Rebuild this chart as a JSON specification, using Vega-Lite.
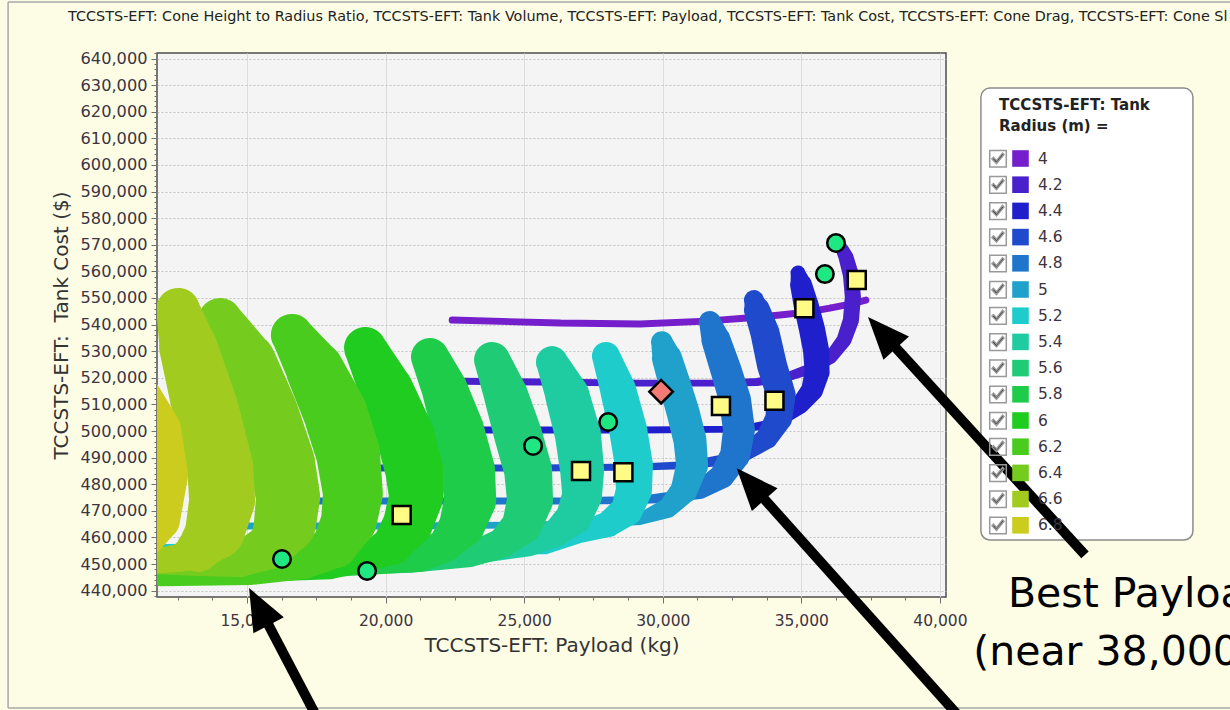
{
  "$schema": "https://vega.github.io/schema/vega-lite/v6.json",
  "width": 789,
  "height": 544,
  "autosize": {"type": "none"},
  "padding": {"left": 157, "top": 53, "right": 284, "bottom": 113},
  "background": "#fdfde6",
  "config": {
    "font": "DejaVu Sans",
    "view": {"fill": "#f4f4f4", "stroke": "#4d4d4d", "strokeWidth": 1.5}
  },
  "datasets": {
    "series": [
      {"r": 4, "payload": 22400, "cost": 541700, "spread": 250},
      {"r": 4, "payload": 26290, "cost": 540600, "spread": 250},
      {"r": 4, "payload": 29180, "cost": 540200, "spread": 250},
      {"r": 4, "payload": 31560, "cost": 541300, "spread": 250},
      {"r": 4, "payload": 33040, "cost": 542500, "spread": 250},
      {"r": 4, "payload": 34230, "cost": 543600, "spread": 250},
      {"r": 4, "payload": 35200, "cost": 544700, "spread": 250},
      {"r": 4, "payload": 36030, "cost": 546200, "spread": 250},
      {"r": 4, "payload": 36760, "cost": 547700, "spread": 250},
      {"r": 4, "payload": 37330, "cost": 549200, "spread": 250},

      {"r": 4.2, "payload": 21960, "cost": 518800, "spread": 250},
      {"r": 4.2, "payload": 25570, "cost": 518400, "spread": 250},
      {"r": 4.2, "payload": 29180, "cost": 518000, "spread": 250},
      {"r": 4.2, "payload": 32070, "cost": 518000, "spread": 250},
      {"r": 4.2, "payload": 33400, "cost": 518400, "spread": 290},
      {"r": 4.2, "payload": 34480, "cost": 520300, "spread": 320},
      {"r": 4.2, "payload": 35420, "cost": 523700, "spread": 400},
      {"r": 4.2, "payload": 36070, "cost": 527800, "spread": 470},
      {"r": 4.2, "payload": 36540, "cost": 534200, "spread": 540},
      {"r": 4.2, "payload": 36790, "cost": 541700, "spread": 580},
      {"r": 4.2, "payload": 36860, "cost": 550400, "spread": 580},
      {"r": 4.2, "payload": 36790, "cost": 558600, "spread": 580},
      {"r": 4.2, "payload": 36610, "cost": 565400, "spread": 540},
      {"r": 4.2, "payload": 36470, "cost": 568400, "spread": 470},

      {"r": 4.4, "payload": 20520, "cost": 500400, "spread": 250},
      {"r": 4.4, "payload": 25570, "cost": 500400, "spread": 250},
      {"r": 4.4, "payload": 29180, "cost": 500400, "spread": 250},
      {"r": 4.4, "payload": 32790, "cost": 500700, "spread": 250},
      {"r": 4.4, "payload": 33690, "cost": 502200, "spread": 320},
      {"r": 4.4, "payload": 34410, "cost": 505300, "spread": 470},
      {"r": 4.4, "payload": 34950, "cost": 509800, "spread": 650},
      {"r": 4.4, "payload": 35390, "cost": 515400, "spread": 790},
      {"r": 4.4, "payload": 35570, "cost": 522200, "spread": 900},
      {"r": 4.4, "payload": 35530, "cost": 530400, "spread": 940},
      {"r": 4.4, "payload": 35390, "cost": 538000, "spread": 940},
      {"r": 4.4, "payload": 35170, "cost": 547400, "spread": 900},
      {"r": 4.4, "payload": 34990, "cost": 554900, "spread": 790},
      {"r": 4.4, "payload": 34880, "cost": 559400, "spread": 540},

      {"r": 4.6, "payload": 19800, "cost": 486100, "spread": 250},
      {"r": 4.6, "payload": 25570, "cost": 486100, "spread": 250},
      {"r": 4.6, "payload": 29180, "cost": 486500, "spread": 250},
      {"r": 4.6, "payload": 30980, "cost": 487200, "spread": 290},
      {"r": 4.6, "payload": 32170, "cost": 489100, "spread": 400},
      {"r": 4.6, "payload": 33040, "cost": 492100, "spread": 580},
      {"r": 4.6, "payload": 33760, "cost": 497400, "spread": 790},
      {"r": 4.6, "payload": 34190, "cost": 504900, "spread": 970},
      {"r": 4.6, "payload": 34270, "cost": 513500, "spread": 1050},
      {"r": 4.6, "payload": 33940, "cost": 524800, "spread": 1080},
      {"r": 4.6, "payload": 33690, "cost": 536800, "spread": 1050},
      {"r": 4.6, "payload": 33400, "cost": 545500, "spread": 940},
      {"r": 4.6, "payload": 33290, "cost": 549200, "spread": 720},

      {"r": 4.8, "payload": 16910, "cost": 473700, "spread": 250},
      {"r": 4.8, "payload": 22320, "cost": 473700, "spread": 250},
      {"r": 4.8, "payload": 26290, "cost": 473700, "spread": 250},
      {"r": 4.8, "payload": 29180, "cost": 474100, "spread": 290},
      {"r": 4.8, "payload": 30330, "cost": 475200, "spread": 400},
      {"r": 4.8, "payload": 31340, "cost": 477800, "spread": 650},
      {"r": 4.8, "payload": 32140, "cost": 483100, "spread": 900},
      {"r": 4.8, "payload": 32610, "cost": 491000, "spread": 1080},
      {"r": 4.8, "payload": 32750, "cost": 500400, "spread": 1150},
      {"r": 4.8, "payload": 32610, "cost": 511600, "spread": 1150},
      {"r": 4.8, "payload": 32280, "cost": 522900, "spread": 1120},
      {"r": 4.8, "payload": 31920, "cost": 534200, "spread": 1050},
      {"r": 4.8, "payload": 31700, "cost": 541000, "spread": 790},

      {"r": 5, "payload": 14390, "cost": 464300, "spread": 250},
      {"r": 5, "payload": 20520, "cost": 464300, "spread": 250},
      {"r": 5, "payload": 25570, "cost": 464700, "spread": 250},
      {"r": 5, "payload": 27740, "cost": 465400, "spread": 290},
      {"r": 5, "payload": 29180, "cost": 466900, "spread": 430},
      {"r": 5, "payload": 30190, "cost": 471100, "spread": 720},
      {"r": 5, "payload": 30770, "cost": 477800, "spread": 970},
      {"r": 5, "payload": 31060, "cost": 487200, "spread": 1150},
      {"r": 5, "payload": 30980, "cost": 496600, "spread": 1190},
      {"r": 5, "payload": 30730, "cost": 507100, "spread": 1190},
      {"r": 5, "payload": 30440, "cost": 517300, "spread": 1150},
      {"r": 5, "payload": 30150, "cost": 527400, "spread": 1080},
      {"r": 5, "payload": 29970, "cost": 533400, "spread": 790},

      {"r": 5.2, "payload": 11860, "cost": 455300, "spread": 430},
      {"r": 5.2, "payload": 16910, "cost": 455600, "spread": 430},
      {"r": 5.2, "payload": 22320, "cost": 456000, "spread": 510},
      {"r": 5.2, "payload": 25750, "cost": 457100, "spread": 650},
      {"r": 5.2, "payload": 27010, "cost": 461700, "spread": 720},
      {"r": 5.2, "payload": 28030, "cost": 465000, "spread": 940},
      {"r": 5.2, "payload": 28710, "cost": 470300, "spread": 1150},
      {"r": 5.2, "payload": 28960, "cost": 477800, "spread": 1300},
      {"r": 5.2, "payload": 28960, "cost": 487200, "spread": 1370},
      {"r": 5.2, "payload": 28750, "cost": 500400, "spread": 1370},
      {"r": 5.2, "payload": 28390, "cost": 515400, "spread": 1300},
      {"r": 5.2, "payload": 27950, "cost": 528200, "spread": 1010},

      {"r": 5.4, "payload": 11860, "cost": 452300, "spread": 650},
      {"r": 5.4, "payload": 18720, "cost": 453000, "spread": 650},
      {"r": 5.4, "payload": 23410, "cost": 454100, "spread": 720},
      {"r": 5.4, "payload": 25210, "cost": 457100, "spread": 790},
      {"r": 5.4, "payload": 26150, "cost": 461700, "spread": 1010},
      {"r": 5.4, "payload": 26800, "cost": 467700, "spread": 1300},
      {"r": 5.4, "payload": 27090, "cost": 475900, "spread": 1440},
      {"r": 5.4, "payload": 27090, "cost": 485300, "spread": 1590},
      {"r": 5.4, "payload": 26940, "cost": 498500, "spread": 1660},
      {"r": 5.4, "payload": 26550, "cost": 513500, "spread": 1590},
      {"r": 5.4, "payload": 26000, "cost": 525900, "spread": 1150},

      {"r": 5.6, "payload": 11860, "cost": 448900, "spread": 790},
      {"r": 5.6, "payload": 16910, "cost": 449600, "spread": 790},
      {"r": 5.6, "payload": 20880, "cost": 450800, "spread": 790},
      {"r": 5.6, "payload": 23050, "cost": 453400, "spread": 870},
      {"r": 5.6, "payload": 24200, "cost": 457900, "spread": 1080},
      {"r": 5.6, "payload": 24920, "cost": 464700, "spread": 1440},
      {"r": 5.6, "payload": 25210, "cost": 474100, "spread": 1660},
      {"r": 5.6, "payload": 25140, "cost": 485300, "spread": 1730},
      {"r": 5.6, "payload": 24780, "cost": 498500, "spread": 1730},
      {"r": 5.6, "payload": 24340, "cost": 513500, "spread": 1590},
      {"r": 5.6, "payload": 23840, "cost": 526700, "spread": 1300},

      {"r": 5.8, "payload": 11860, "cost": 448500, "spread": 870},
      {"r": 5.8, "payload": 17990, "cost": 449600, "spread": 870},
      {"r": 5.8, "payload": 21240, "cost": 452300, "spread": 1010},
      {"r": 5.8, "payload": 22140, "cost": 457100, "spread": 1230},
      {"r": 5.8, "payload": 22760, "cost": 464700, "spread": 1660},
      {"r": 5.8, "payload": 23050, "cost": 474100, "spread": 1880},
      {"r": 5.8, "payload": 22970, "cost": 485300, "spread": 1950},
      {"r": 5.8, "payload": 22610, "cost": 500400, "spread": 1880},
      {"r": 5.8, "payload": 22140, "cost": 515400, "spread": 1660},
      {"r": 5.8, "payload": 21600, "cost": 527800, "spread": 1370},

      {"r": 6, "payload": 11860, "cost": 447000, "spread": 870},
      {"r": 6, "payload": 15110, "cost": 447700, "spread": 870},
      {"r": 6, "payload": 17990, "cost": 449200, "spread": 940},
      {"r": 6, "payload": 19370, "cost": 452600, "spread": 1010},
      {"r": 6, "payload": 20230, "cost": 457100, "spread": 1440},
      {"r": 6, "payload": 20810, "cost": 465400, "spread": 1800},
      {"r": 6, "payload": 21100, "cost": 475200, "spread": 1950},
      {"r": 6, "payload": 21030, "cost": 485300, "spread": 2090},
      {"r": 6, "payload": 20700, "cost": 498500, "spread": 2090},
      {"r": 6, "payload": 20020, "cost": 515400, "spread": 1950},
      {"r": 6, "payload": 19260, "cost": 531200, "spread": 1520},

      {"r": 6.2, "payload": 11860, "cost": 446200, "spread": 870},
      {"r": 6.2, "payload": 15110, "cost": 447000, "spread": 940},
      {"r": 6.2, "payload": 17090, "cost": 450400, "spread": 1150},
      {"r": 6.2, "payload": 18180, "cost": 457100, "spread": 1660},
      {"r": 6.2, "payload": 18680, "cost": 466500, "spread": 2020},
      {"r": 6.2, "payload": 18820, "cost": 476700, "spread": 2160},
      {"r": 6.2, "payload": 18640, "cost": 491700, "spread": 2310},
      {"r": 6.2, "payload": 18180, "cost": 506800, "spread": 2310},
      {"r": 6.2, "payload": 17450, "cost": 522900, "spread": 2090},
      {"r": 6.2, "payload": 16620, "cost": 536100, "spread": 1520},

      {"r": 6.4, "payload": 11500, "cost": 450800, "spread": 870},
      {"r": 6.4, "payload": 13300, "cost": 450400, "spread": 940},
      {"r": 6.4, "payload": 14750, "cost": 451500, "spread": 1230},
      {"r": 6.4, "payload": 15900, "cost": 457100, "spread": 1730},
      {"r": 6.4, "payload": 16370, "cost": 465400, "spread": 2240},
      {"r": 6.4, "payload": 16480, "cost": 475200, "spread": 2310},
      {"r": 6.4, "payload": 16260, "cost": 488000, "spread": 2380},
      {"r": 6.4, "payload": 15690, "cost": 506800, "spread": 2310},
      {"r": 6.4, "payload": 14930, "cost": 525600, "spread": 2240},
      {"r": 6.4, "payload": 14030, "cost": 541700, "spread": 1590},

      {"r": 6.6, "payload": 11500, "cost": 450800, "spread": 870},
      {"r": 6.6, "payload": 12580, "cost": 452300, "spread": 1010},
      {"r": 6.6, "payload": 13230, "cost": 455300, "spread": 1590},
      {"r": 6.6, "payload": 13850, "cost": 462800, "spread": 2160},
      {"r": 6.6, "payload": 14100, "cost": 474100, "spread": 2380},
      {"r": 6.6, "payload": 14030, "cost": 486500, "spread": 2380},
      {"r": 6.6, "payload": 13480, "cost": 509000, "spread": 2380},
      {"r": 6.6, "payload": 12870, "cost": 531600, "spread": 2090},
      {"r": 6.6, "payload": 12510, "cost": 545500, "spread": 1590},

      {"r": 6.8, "payload": 11140, "cost": 455300, "spread": 1080},
      {"r": 6.8, "payload": 11860, "cost": 466500, "spread": 1440},
      {"r": 6.8, "payload": 12040, "cost": 483500, "spread": 1660},
      {"r": 6.8, "payload": 11790, "cost": 500400, "spread": 1660},
      {"r": 6.8, "payload": 10960, "cost": 515400, "spread": 1590}
    ],
    "picks": [
      {"kind": "circle", "payload": 16260, "cost": 451900},
      {"kind": "circle", "payload": 19330, "cost": 447400},
      {"kind": "circle", "payload": 25320, "cost": 494400},
      {"kind": "circle", "payload": 28030, "cost": 503400},
      {"kind": "circle", "payload": 35850, "cost": 559000},
      {"kind": "circle", "payload": 36250, "cost": 570700},
      {"kind": "square", "payload": 20580, "cost": 468400},
      {"kind": "square", "payload": 27050, "cost": 485000},
      {"kind": "square", "payload": 28580, "cost": 484500},
      {"kind": "square", "payload": 32100, "cost": 509400},
      {"kind": "square", "payload": 34030, "cost": 511400},
      {"kind": "square", "payload": 35110, "cost": 546100},
      {"kind": "square", "payload": 37000, "cost": 556800},
      {"kind": "diamond", "payload": 29940, "cost": 514800}
    ],
    "frame": [
      {"payload": 6377, "cost": 661255, "payload2": 6377, "cost2": 395870},
      {"payload": 6377, "cost": 661255, "payload2": 50650, "cost2": 661255},
      {"payload": 6377, "cost": 395870, "payload2": 50650, "cost2": 395870}
    ],
    "legendbox": [
      {"payload": 41480, "cost": 628930, "payload2": 49130, "cost2": 459020}
    ],
    "arrows": [
      {"id": 1, "payload": 38010, "cost": 535900, "payload2": 45235, "cost2": 453400},
      {"id": 2, "payload": 33270, "cost": 479000, "payload2": 40800, "cost2": 391400},
      {"id": 3, "payload": 15490, "cost": 432700, "payload2": 17570, "cost2": 391400}
    ],
    "heads": [
      {"id": 1, "payload": 37405, "cost": 542850},
      {"id": 2, "payload": 32668, "cost": 485970},
      {"id": 3, "payload": 15072, "cost": 440980}
    ],
    "notes": [
      {"payload": 42457, "cost": 433950, "text": "Best Payload"},
      {"payload": 41204, "cost": 412030, "text": "(near 38,000 kg)"}
    ],
    "heading": [
      {"payload": 8541, "cost": 654110, "text": "TCCSTS-EFT: Cone Height to Radius Ratio, TCCSTS-EFT: Tank Volume, TCCSTS-EFT: Payload, TCCSTS-EFT: Tank Cost, TCCSTS-EFT: Cone Drag, TCCSTS-EFT: Cone Sl"}
    ],
    "boxes": [
      {"box": "b01", "payload": 30000, "cost": 600000},
      {"box": "b02", "payload": 30000, "cost": 600000},
      {"box": "b03", "payload": 30000, "cost": 600000},
      {"box": "b04", "payload": 30000, "cost": 600000},
      {"box": "b05", "payload": 30000, "cost": 600000},
      {"box": "b06", "payload": 30000, "cost": 600000},
      {"box": "b07", "payload": 30000, "cost": 600000},
      {"box": "b08", "payload": 30000, "cost": 600000},
      {"box": "b09", "payload": 30000, "cost": 600000},
      {"box": "b10", "payload": 30000, "cost": 600000},
      {"box": "b11", "payload": 30000, "cost": 600000},
      {"box": "b12", "payload": 30000, "cost": 600000},
      {"box": "b13", "payload": 30000, "cost": 600000},
      {"box": "b14", "payload": 30000, "cost": 600000},
      {"box": "b15", "payload": 30000, "cost": 600000}
    ]
  },
  "encoding": {
    "x": {
      "field": "payload", "type": "quantitative",
      "scale": {"domain": [11750, 40220], "nice": false, "zero": false},
      "axis": {
        "title": "TCCSTS-EFT: Payload (kg)",
        "values": [12500, 13750, 15000, 16250, 17500, 18750, 20000, 21250, 22500, 23750, 25000, 26250, 27500, 28750, 30000, 31250, 32500, 33750, 35000, 36250, 37500, 38750, 40000],
        "format": ",d",
        "labelExpr": "datum.value % 5000 === 0 ? datum.label : ''",
        "labelOverlap": false, "labelFlush": false, "domain": false,
        "grid": true, "gridColor": "#dcdcdc", "gridWidth": 1,
        "gridOpacity": {"condition": {"test": "datum.value % 5000 === 0", "value": 1}, "value": 0},
        "tickColor": "#707070",
        "tickSize": {"condition": {"test": "datum.value % 5000 === 0", "value": 6}, "value": 3},
        "labelFont": "DejaVu Sans", "labelFontSize": 15.5, "labelColor": "#3d3440", "labelPadding": 10,
        "titleFont": "DejaVu Sans", "titleFontSize": 20, "titleFontWeight": "normal", "titleColor": "#333333", "titlePadding": 7
      }
    },
    "y": {
      "field": "cost", "type": "quantitative",
      "scale": {"domain": [437600, 642100], "nice": false, "zero": false},
      "axis": {
        "title": "TCCSTS-EFT:\u00a0 Tank Cost ($)",
        "tickCount": 100,
        "format": ",d",
        "labelExpr": "datum.value % 10000 === 0 ? datum.label : ''",
        "labelOverlap": false, "labelFlush": false, "domain": false,
        "grid": true, "gridColor": "#c4c4c4", "gridWidth": 1, "gridDash": [2, 2],
        "gridOpacity": {"condition": {"test": "datum.value % 10000 === 0", "value": 1}, "value": 0},
        "tickColor": "#707070",
        "tickSize": {"condition": {"test": "datum.value % 10000 === 0", "value": 6}, "value": 3},
        "labelFont": "DejaVu Sans", "labelFontSize": 16.2, "labelColor": "#3d3440", "labelPadding": 4,
        "titleFont": "DejaVu Sans", "titleFontSize": 20, "titleFontWeight": "normal", "titleColor": "#333333", "titlePadding": 9
      }
    }
  },
  "layer": [
    {
      "data": {"name": "series"},
      "mark": {"type": "trail", "clip": true},
      "encoding": {
        "order": {"value": null},
        "size": {"field": "spread", "type": "quantitative", "scale": {"type": "linear", "domain": [0, 3608], "range": [0, 100]}, "legend": null},
        "color": {
          "field": "r", "type": "ordinal",
          "scale": {
            "domain": [4, 4.2, 4.4, 4.6, 4.8, 5, 5.2, 5.4, 5.6, 5.8, 6, 6.2, 6.4, 6.6, 6.8],
            "range": ["#751fcc", "#4a1fcc", "#1f1fcc", "#1f4acc", "#1f75cc", "#1fa1cc", "#1fcccc", "#1fcca1", "#1fcc75", "#1fcc4a", "#1fcc1f", "#4acc1f", "#75cc1f", "#a1cc1f", "#cccc1f"]
          },
          "legend": {
            "title": ["TCCSTS-EFT: Tank", "Radius (m) ="],
            "orient": "none", "legendX": 824, "legendY": 35,
            "padding": 10, "fillColor": "transparent", "strokeColor": "transparent",
            "symbolType": "square", "symbolSize": 275, "symbolStrokeWidth": 0, "symbolOpacity": 1,
            "symbolOffset": 21, "labelOffset": 9, "rowPadding": 9.2,
            "titleFont": "DejaVu Sans", "titleFontSize": 15, "titleFontWeight": "bold", "titleColor": "#222222",
            "titleLineHeight": 21, "titlePadding": 16, "titleLimit": 400,
            "labelFont": "DejaVu Sans", "labelFontSize": 15.5, "labelColor": "#3d3440",
            "encode": {
              "title": {"update": {"dx": {"value": 8}}},
              "symbols": {"update": {"fill": {"scale": "color", "field": "value"}, "stroke": {"value": "transparent"}, "strokeWidth": {"value": 0}, "opacity": {"value": 1}}}
            }
          }
        }
      }
    },
    {
      "data": {"name": "boxes"},
      "mark": {"type": "point", "filled": true, "opacity": 0, "fill": "#111111", "stroke": "#999999", "strokeWidth": 1},
      "encoding": {
        "shape": {
          "field": "box", "type": "nominal",
          "scale": {"range": ["M-1,-1L1,-1L1,1L-1,1Z M-1,-1L-1,1L1,1L1,-1Z M-0.72,0.02L-0.18,0.58L0.72,-0.5L0.55,-0.68L-0.18,0.24L-0.55,-0.16Z"]},
          "legend": {
            "title": null, "orient": "none", "legendX": 831.5, "legendY": 96.2, "padding": 0,
            "symbolSize": 275, "symbolOpacity": 1, "labelExpr": "''", "rowPadding": 3.2, "labelFontSize": 15.5, "zindex": 1,
            "encode": {
              "symbols": {"update": {"fill": {"value": "#111111"}, "stroke": {"value": "#8a8a8a"}, "strokeWidth": {"value": 1}, "opacity": {"value": 1}}}
            }
          }
        }
      }
    },
    {
      "data": {"name": "picks"},
      "transform": [{"filter": "datum.kind === 'circle'"}],
      "mark": {"type": "point", "shape": "circle", "filled": true, "fill": "#1fe882", "stroke": "#000000", "strokeWidth": 2.5, "size": 306, "opacity": 1}
    },
    {
      "data": {"name": "picks"},
      "transform": [{"filter": "datum.kind === 'square'"}],
      "mark": {"type": "point", "shape": "square", "filled": true, "fill": "#fffb85", "stroke": "#000000", "strokeWidth": 2.5, "size": 324, "opacity": 1}
    },
    {
      "data": {"name": "picks"},
      "transform": [{"filter": "datum.kind === 'diamond'"}],
      "mark": {"type": "point", "shape": "diamond", "filled": true, "fill": "#f47a75", "stroke": "#000000", "strokeWidth": 2.5, "size": 550, "opacity": 1}
    },
    {
      "data": {"name": "frame"},
      "mark": {"type": "rule", "color": "#a8a8a8", "strokeWidth": 1.5, "clip": false},
      "encoding": {
        "x2": {"field": "payload2"},
        "y2": {"field": "cost2"}
      }
    },
    {
      "data": {"name": "heading"},
      "mark": {"type": "text", "align": "left", "baseline": "alphabetic", "font": "DejaVu Sans", "fontSize": 14.4, "color": "#222222"},
      "encoding": {"text": {"field": "text"}}
    },
    {
      "data": {"name": "legendbox"},
      "mark": {"type": "rect", "fill": "#ffffff", "stroke": "#8c8c8c", "strokeWidth": 1.5, "cornerRadius": 9, "clip": false},
      "encoding": {
        "x2": {"field": "payload2"},
        "y2": {"field": "cost2"}
      }
    },
    {
      "data": {"name": "arrows"},
      "mark": {"type": "rule", "color": "#000000", "strokeWidth": 10, "strokeCap": "butt"},
      "encoding": {
        "x2": {"field": "payload2"},
        "y2": {"field": "cost2"}
      }
    },
    {
      "data": {"name": "heads"},
      "transform": [{"filter": "datum.id === 1"}],
      "mark": {"type": "point", "shape": "M0,0L0.9,2.2L-0.9,2.2Z", "filled": true, "color": "#000000", "opacity": 1, "size": 1460, "angle": 317.8}
    },
    {
      "data": {"name": "heads"},
      "transform": [{"filter": "datum.id === 2"}],
      "mark": {"type": "point", "shape": "M0,0L0.9,2.2L-0.9,2.2Z", "filled": true, "color": "#000000", "opacity": 1, "size": 1460, "angle": 318.2}
    },
    {
      "data": {"name": "heads"},
      "transform": [{"filter": "datum.id === 3"}],
      "mark": {"type": "point", "shape": "M0,0L0.9,2.2L-0.9,2.2Z", "filled": true, "color": "#000000", "opacity": 1, "size": 1460, "angle": 332.3}
    },
    {
      "data": {"name": "notes"},
      "mark": {"type": "text", "align": "left", "baseline": "alphabetic", "font": "DejaVu Sans", "fontSize": 41, "color": "#000000"},
      "encoding": {"text": {"field": "text"}}
    }
  ]
}
